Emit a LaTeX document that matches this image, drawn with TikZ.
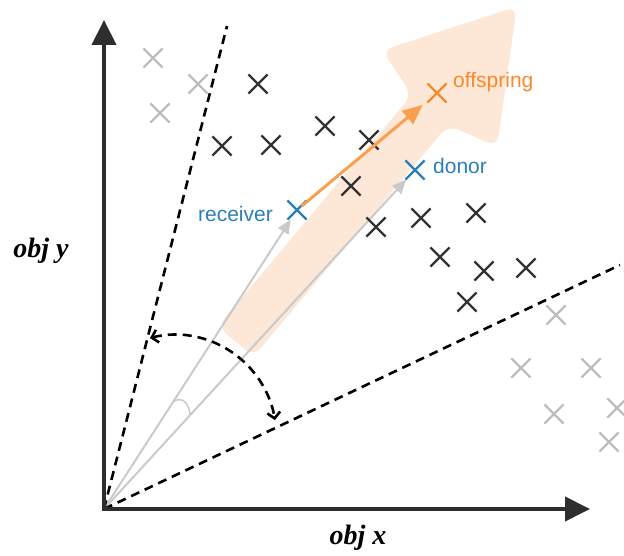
\documentclass[tikz,border=0pt]{standalone}
\usepackage{fontspec}
\setmainfont{Liberation Serif}
\setsansfont{Liberation Sans}
\usetikzlibrary{arrows.meta,shapes.misc}

\definecolor{axisdark}{HTML}{2E2E2E}
\definecolor{crossdark}{HTML}{333333}
\definecolor{crosslight}{HTML}{BDBDBD}
\definecolor{guidegray}{HTML}{CACACA}
\definecolor{peach}{HTML}{FDE7D6}
\definecolor{donorblue}{HTML}{2980B9}
\definecolor{offorange}{HTML}{F58A2A}
\definecolor{arroworange}{HTML}{F9A04E}

\begin{document}
\begin{tikzpicture}[x=1pt, y=1pt,
    xmark/.style={cross out, draw, line width=2.2pt, minimum size=17pt, inner sep=0pt},
    darkx/.style={xmark, crossdark},
    lightx/.style={xmark, crosslight},
    axisline/.style={line width=4pt, axisdark, line join=miter,
        {Triangle[length=25pt,width=24pt]}-{Triangle[length=25pt,width=24pt]}},
    bound/.style={line width=2.6pt, dash pattern=on 9pt off 6pt},
    guide/.style={guidegray, line width=2pt, -{Triangle[length=14pt,width=12pt]}},
    lab/.style={font=\sffamily\fontsize{21}{25}\selectfont, inner sep=0pt},
    axlab/.style={font=\bfseries\itshape\fontsize{28}{32}\selectfont, inner sep=0pt}
]
    \useasboundingbox (0,0) rectangle (624,556);

    % Search direction (background arrow)
    \fill[peach, rounded corners=11pt] (217.5,229.5) -- (412,461.1) -- (382.1,505.7)
        -- (516.8,549.4) -- (497.1,409.3) -- (448,430.9) -- (253.5,199.3) -- cycle;

    % Origin and region bounds
    \coordinate (O) at (104,47);
    \coordinate (ytip) at (104,536);
    \coordinate (xtip) at (590,47);
    \coordinate (upb) at (227,530);
    \coordinate (lowb) at (620,291);

    % Individuals
    \node[xmark, donorblue] (rec) at (297,346) {};
    \node[xmark, donorblue] (don) at (415,386) {};
    \node[xmark, offorange] (off) at (437,463) {};

    % Guide vectors from origin
    \draw[guide] (O) -- (rec);
    \draw[guide] (O) -- (don);
    \draw[guidegray, line width=1.5pt] (172.4,153) .. controls (177,158.5) and (188,159) .. (190.2,141);

    % Bounds
    \draw[bound] (O) -- (upb);
    \draw[bound] (O) -- (lowb);
    \draw[bound, {Straight Barb[length=6pt,width=13pt]}-{Straight Barb[length=6pt,width=13pt]}]
        (150,217.9) arc[start angle=104.6, end angle=8.8, radius=100.7pt];

    % Population
    \foreach \px/\py [count=\i] in {153/498, 198/472, 160/443, 556/241, 521/188,
        591/188, 554/142, 617/148, 609/114}
        \node[lightx] (light\i) at (\px,\py) {};
    \foreach \px/\py [count=\i] in {258/472, 222/410, 271/411, 325/430, 369/416,
        351/370, 376/329, 421/338, 476/343, 440/299, 484/285, 526/288, 467/254}
        \node[darkx] (dark\i) at (\px,\py) {};

    % Crossover step
    \draw[arroworange, line width=3pt, -{Triangle[length=20pt,width=17pt]},
        shorten <=6pt, shorten >=6pt] (rec.center) -- (off);

    % Labels
    \node[lab, donorblue, anchor=base east] (reclab) at (273,334) {receiver};
    \node[lab, donorblue, anchor=base west] (donlab) at (433,382) {donor};
    \node[lab, offorange, anchor=base west] (offlab) at (453,468) {offspring};

    % Axes
    \draw[axisline] (ytip) -- (O) -- (xtip);
    \node[axlab, anchor=base] (ylab) at (41,298) {obj y};
    \node[axlab, anchor=base] (xlab) at (358,11) {obj x};
\end{tikzpicture}
\end{document}
